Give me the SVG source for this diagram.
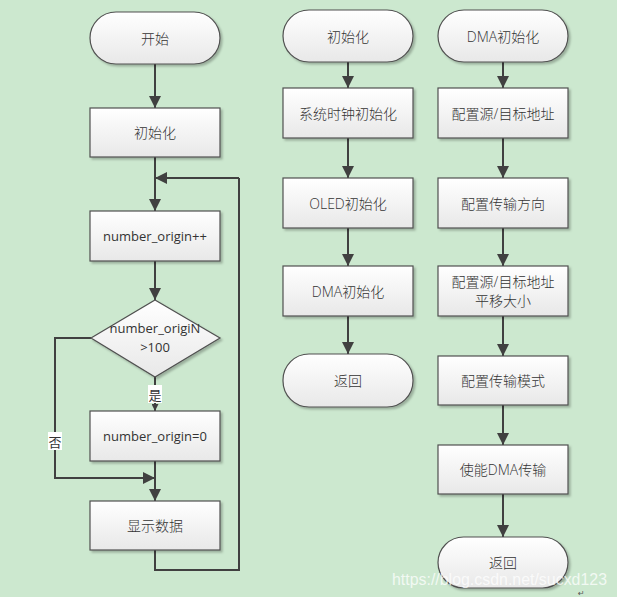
<svg xmlns="http://www.w3.org/2000/svg" width="617" height="597" viewBox="0 0 617 597">
<defs>
<linearGradient id="g" x1="0" y1="0" x2="0" y2="1">
<stop offset="0" stop-color="#ffffff"/>
<stop offset="1" stop-color="#e8e8e8"/>
</linearGradient>
<filter id="sh" x="-10%" y="-10%" width="130%" height="140%">
<feDropShadow dx="2" dy="2" stdDeviation="1" flood-color="#000" flood-opacity="0.25"/>
</filter>
<marker id="ah" markerWidth="12" markerHeight="12" viewBox="0 0 12 12" refX="12" refY="6" orient="auto" markerUnits="userSpaceOnUse">
<path d="M0,0 L12,6 L0,12 Z" fill="#404040"/>
</marker>
<marker id="as" markerWidth="7" markerHeight="7" viewBox="0 0 12 12" refX="12" refY="6" orient="auto" markerUnits="userSpaceOnUse">
<path d="M0,0 L12,6 L0,12 Z" fill="#404040"/>
</marker>
<style>
.n{fill:url(#g);stroke:#505050;stroke-width:1.2;filter:url(#sh)}
.t{font-family:"Open Sans","Noto Sans CJK SC",sans-serif;font-size:14px;font-weight:300;fill:#333;text-anchor:middle;dominant-baseline:central}
.s{font-size:13px;font-weight:400}
.c{fill:none;stroke:#404040;stroke-width:2}
.lb{font-family:"Noto Sans CJK SC",sans-serif;font-size:13px;fill:#333;text-anchor:middle;dominant-baseline:central}
</style>
</defs>
<rect width="617" height="597" fill="#cce8cf"/>

<g id="connectors">
<path class="c" d="M155,64 V108" marker-end="url(#ah)"/>
<path class="c" d="M155,157 V211" marker-end="url(#ah)"/>
<path class="c" d="M239,178 H155" marker-end="url(#ah)"/>
<path class="c" d="M155,261 V300" marker-end="url(#ah)"/>
<path class="c" d="M155,377 V411" marker-end="url(#as)"/>
<path class="c" d="M91,338 H55 V478 H155" marker-end="url(#ah)"/>
<path class="c" d="M155,461 V501" marker-end="url(#ah)"/>
<path class="c" d="M155,550 V570 H239 V178"/>

<path class="c" d="M348,62 V88" marker-end="url(#ah)"/>
<path class="c" d="M348,138 V178" marker-end="url(#ah)"/>
<path class="c" d="M348,228 V266" marker-end="url(#ah)"/>
<path class="c" d="M348,316 V354" marker-end="url(#ah)"/>

<path class="c" d="M503,62 V88" marker-end="url(#ah)"/>
<path class="c" d="M503,138 V178" marker-end="url(#ah)"/>
<path class="c" d="M503,228 V266" marker-end="url(#ah)"/>
<path class="c" d="M503,316 V356" marker-end="url(#ah)"/>
<path class="c" d="M503,405 V445" marker-end="url(#ah)"/>
<path class="c" d="M503,494 V537" marker-end="url(#ah)"/>

<rect x="148" y="385" width="14" height="18" fill="#fff"/>
<text class="lb" x="155" y="394">是</text>
<rect x="48" y="432" width="14" height="18" fill="#fff"/>
<text class="lb" x="55" y="441">否</text>
</g>

<g id="start">
<rect class="n" x="90" y="12" width="130" height="52" rx="26"/>
<text class="t" x="155" y="38">开始</text>
</g>
<g id="init">
<rect class="n" x="90" y="108" width="130" height="49"/>
<text class="t" x="155" y="132">初始化</text>
</g>
<g id="inc">
<rect class="n" x="90" y="211" width="130" height="50"/>
<text class="t s" x="155" y="236">number_origin++</text>
</g>
<g id="cond">
<path class="n" d="M155,300 L220,338 L155,377 L91,338 Z"/>
<text class="t s" x="155" y="328">number_origiN</text>
<text class="t s" x="155" y="347">&gt;100</text>
</g>
<g id="reset">
<rect class="n" x="90" y="411" width="130" height="50"/>
<text class="t s" x="155" y="436">number_origin=0</text>
</g>
<g id="show">
<rect class="n" x="90" y="501" width="130" height="49"/>
<text class="t" x="155" y="525">显示数据</text>
</g>

<g id="init2">
<rect class="n" x="283" y="10" width="130" height="52" rx="26"/>
<text class="t" x="348" y="36">初始化</text>
</g>
<g id="clock">
<rect class="n" x="283" y="88" width="130" height="50"/>
<text class="t" x="348" y="113">系统时钟初始化</text>
</g>
<g id="oled">
<rect class="n" x="283" y="178" width="130" height="50"/>
<text class="t" x="348" y="203">OLED初始化</text>
</g>
<g id="dmainit">
<rect class="n" x="283" y="266" width="130" height="50"/>
<text class="t" x="348" y="291">DMA初始化</text>
</g>
<g id="ret1">
<rect class="n" x="283" y="354" width="130" height="53" rx="26"/>
<text class="t" x="348" y="380">返回</text>
</g>

<g id="dmastart">
<rect class="n" x="438" y="10" width="130" height="52" rx="26"/>
<text class="t" x="503" y="36">DMA初始化</text>
</g>
<g id="addr">
<rect class="n" x="438" y="88" width="130" height="50"/>
<text class="t" x="503" y="113">配置源/目标地址</text>
</g>
<g id="dir">
<rect class="n" x="438" y="178" width="130" height="50"/>
<text class="t" x="503" y="203">配置传输方向</text>
</g>
<g id="offset">
<rect class="n" x="438" y="266" width="130" height="50"/>
<text class="t" x="503" y="281">配置源/目标地址</text>
<text class="t" x="503" y="300">平移大小</text>
</g>
<g id="mode">
<rect class="n" x="438" y="356" width="130" height="49"/>
<text class="t" x="503" y="380">配置传输模式</text>
</g>
<g id="enable">
<rect class="n" x="438" y="445" width="130" height="49"/>
<text class="t" x="503" y="469">使能DMA传输</text>
</g>
<g id="ret2">
<rect class="n" x="438" y="537" width="130" height="51" rx="25.5"/>
<text class="t" x="503" y="562">返回</text>
</g>

<text x="392" y="585" font-family="Liberation Sans, sans-serif" font-size="17" fill="#ffffff" fill-opacity="0.75" textLength="215" lengthAdjust="spacingAndGlyphs">https://blog.csdn.net/sucxd123</text>
<text x="578" y="596" font-family="DejaVu Sans, sans-serif" font-size="8" fill="#555">↵</text>
</svg>
